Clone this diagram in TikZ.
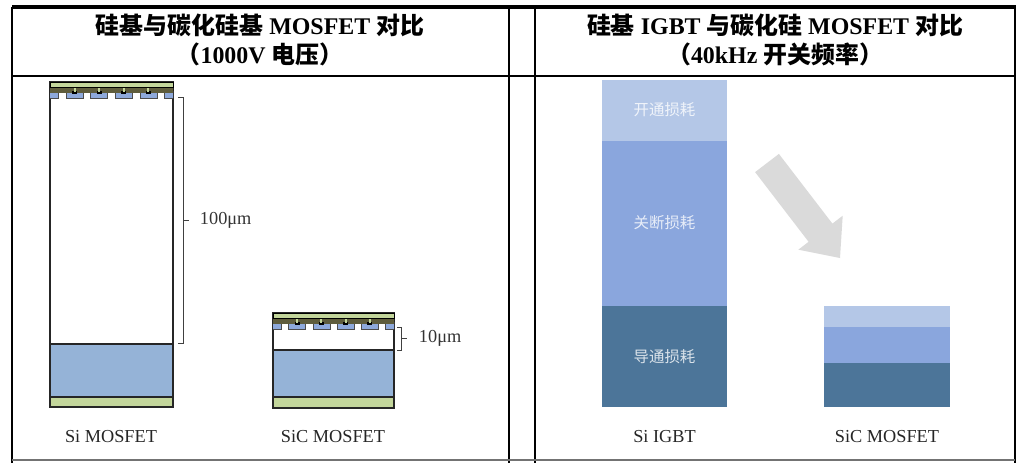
\documentclass[tikz,border=0pt]{standalone}
\usepackage{fontspec}
\setmainfont{Liberation Serif}
\newfontfamily\cjk{Noto Sans CJK SC}
\usetikzlibrary{positioning}
\definecolor{gateGreen}{HTML}{C3D69B}
\definecolor{gateOlive}{HTML}{5E5C3C}
\definecolor{cellBlue}{HTML}{8EA9DB}
\definecolor{subBlue}{HTML}{95B3D7}
\definecolor{lossOn}{HTML}{B4C7E7}
\definecolor{lossOff}{HTML}{8AA6DD}
\definecolor{lossCond}{HTML}{4C7599}
\definecolor{arrowGray}{HTML}{DADADA}

% cell array on top of a MOSFET die: #1 left x, #2 top y, #3 width
\newcommand{\gatetop}[3]{%
  \begin{scope}
    \clip (#1,#2) rectangle ++(#3,18);
    \foreach \k in {0,...,5}
      \draw[fill=cellBlue, draw=black!70, line width=0.4pt]
        ({#1+\k*#3/5-8.5},#2+9) rectangle ++(17,7);
    \fill[gateOlive] (#1,#2+5) rectangle ++(#3,6);
    \foreach \k in {1,...,4} {
      \fill[black] ({#1+\k*#3/5-2.5},#2+9) rectangle ++(5,3);
      \fill[gateGreen] ({#1+\k*#3/5-1},#2+5) rectangle ++(2,5);
    }
  \end{scope}
  \draw[fill=gateGreen, line width=0.6pt] (#1,#2) rectangle ++(#3,5);
}

\begin{document}
\begin{tikzpicture}[
  x=0.025cm, y=-0.025cm,
  title/.style  = {font=\fontsize{17}{20}\selectfont\bfseries, align=center},
  devname/.style= {font=\fontsize{13}{15}\selectfont, text=black!85},
  size/.style   = {font=\fontsize{13}{15}\selectfont, text=black!80, anchor=west},
  loss/.style   = {font=\cjk\fontsize{11}{13}\selectfont, text=white, text opacity=0.8},
  layer/.style  = {draw=black!85, line width=0.9pt},
  brace/.style  = {draw=black!75, line width=0.6pt},
  rule/.style   = {draw=black, line width=0.9pt},
]
  \useasboundingbox (0,0) rectangle (1024,463);

  % table frame
  \draw[rule, line width=2.2pt] (12,7) -- (1016,7);
  \draw[rule, line width=1.2pt] (12,7) -- (12,463);
  \draw[rule, line width=1.6pt] (1015,7) -- (1015,463);
  \draw[rule] (12,76) -- (1015,76);
  \draw[rule, line width=1.1pt] (509,7) -- (509,463);
  \draw[rule] (535,7) -- (535,463);
  \draw[draw=black!55, line width=1.2pt] (12,460) -- (1015,460);

  \node[title] (headL) at (260,25) {{\cjk 硅基与碳化硅基} MOSFET {\cjk 对比}};
  \node[title] (subL)  at (260,54) {{\cjk （}1000V {\cjk 电压）}};
  \node[title] (headR) at (775,25) {{\cjk 硅基} IGBT {\cjk 与碳化硅} MOSFET {\cjk 对比}};
  \node[title] (subR)  at (775,54) {{\cjk （}40kHz {\cjk 开关频率）}};

  % Si MOSFET die
  \fill[subBlue]   (50,344) rectangle (173,397);
  \fill[gateGreen] (50,397) rectangle (173,407);
  \draw[layer] (50,344) -- (173,344) (50,397) -- (173,397);
  \draw[layer] (50,82) rectangle (173,407);
  \gatetop{50}{82}{123}
  \draw[brace] (178,97) -- (183,97) -- (183,343) -- (178,343)
               (183,220) -- (189,220);
  \node[size] (thickSi) at (195,220) {100μm};
  \node[devname] (nameSi) at (111,437) {Si MOSFET};

  % SiC MOSFET die
  \fill[subBlue]   (273,350) rectangle (394,397);
  \fill[gateGreen] (273,397) rectangle (394,408);
  \draw[layer] (273,350) -- (394,350) (273,397) -- (394,397);
  \draw[layer] (273,313) rectangle (394,408);
  \gatetop{273}{313}{121}
  \draw[brace] (397,327) -- (401,327) -- (401,350) -- (397,350)
               (401,338) -- (407,338);
  \node[size] (thickSiC) at (414,338) {10μm};
  \node[devname] (nameSiC) at (333,437) {SiC MOSFET};

  % switching losses, Si IGBT
  \fill[lossOn]   (602,80)  rectangle (727,141);
  \fill[lossOff]  (602,141) rectangle (727,306);
  \fill[lossCond] (602,306) rectangle (727,407);
  \node[loss] (igbtOn)   at (664.5,110) {开通损耗};
  \node[loss] (igbtOff)  at (664.5,223) {关断损耗};
  \node[loss] (igbtCond) at (664.5,357) {导通损耗};
  \node[devname] (nameIGBT) at (664.5,437) {Si IGBT};

  % switching losses, SiC MOSFET
  \fill[lossOn]   (824,306) rectangle (950,327);
  \fill[lossOff]  (824,327) rectangle (950,363);
  \fill[lossCond] (824,363) rectangle (950,407);
  \node[devname] (nameSiCR) at (887,437) {SiC MOSFET};

  \fill[arrowGray] (755.1,172.1) -- (808.6,241.8) -- (798.3,249.7) -- (840,258)
    -- (842.7,215.7) -- (832.4,223.6) -- (778.9,153.9) -- cycle;
\end{tikzpicture}
\end{document}
